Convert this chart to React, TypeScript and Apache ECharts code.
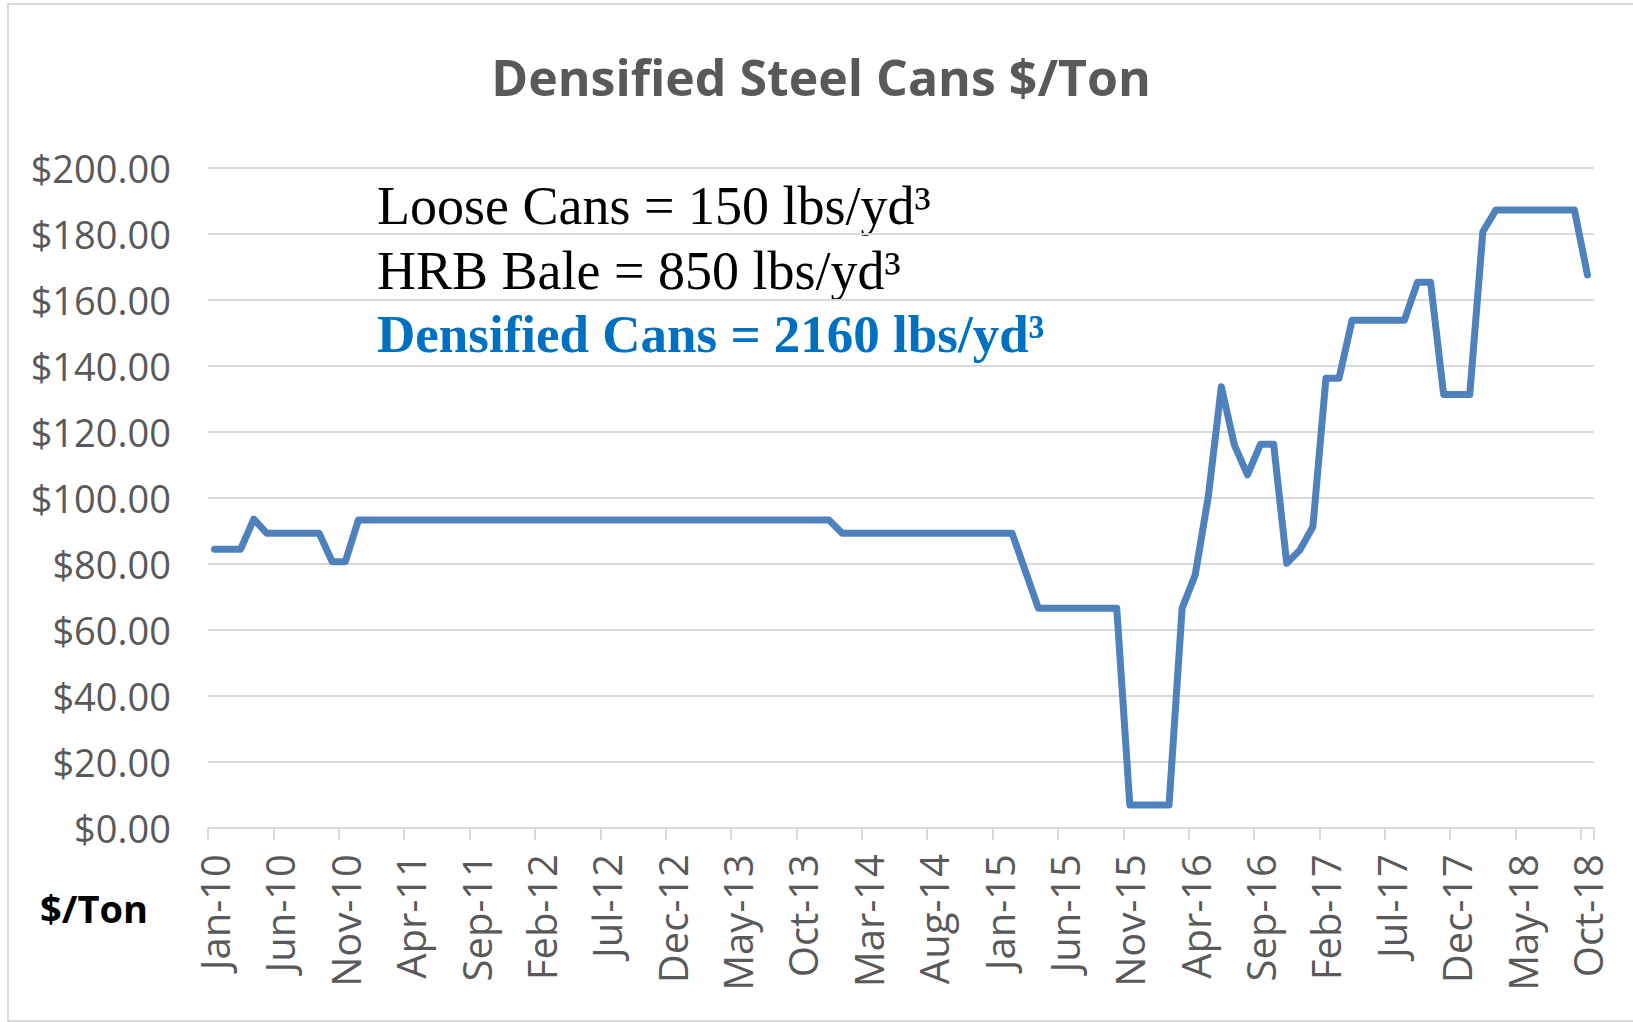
import React, { useEffect, useRef } from "react";
import * as echarts from "echarts";

const MONTH_NAMES = ["Jan", "Feb", "Mar", "Apr", "May", "Jun", "Jul", "Aug", "Sep", "Oct", "Nov", "Dec"];
const YEARS = [10, 11, 12, 13, 14, 15, 16, 17, 18];
const LAST_MONTH_2018 = 9; // Oct

const prices2010 = [84.5, 84.5, 84.5, 93.6, 89.3, 89.3, 89.3, 89.3, 89.3, 80.7, 80.7, 93.3];
const prices2011 = [93.3, 93.3, 93.3, 93.3, 93.3, 93.3, 93.3, 93.3, 93.3, 93.3, 93.3, 93.3];
const prices2012 = [93.3, 93.3, 93.3, 93.3, 93.3, 93.3, 93.3, 93.3, 93.3, 93.3, 93.3, 93.3];
const prices2013 = [93.3, 93.3, 93.3, 93.3, 93.3, 93.3, 93.3, 93.3, 93.3, 93.3, 93.3, 93.3];
const prices2014 = [89.3, 89.3, 89.3, 89.3, 89.3, 89.3, 89.3, 89.3, 89.3, 89.3, 89.3, 89.3];
const prices2015 = [89.3, 89.3, 78, 66.6, 66.6, 66.6, 66.6, 66.6, 66.6, 66.6, 7, 7];
const prices2016 = [7, 7, 66.6, 76.7, 100.4, 133.7, 116, 107, 116.3, 116.3, 80.2, 84.2];
const prices2017 = [91.3, 136.3, 136.3, 153.9, 153.9, 153.9, 153.9, 153.9, 165.4, 165.4, 131.4, 131.4];
const prices2018 = [131.4, 180.7, 187.3, 187.3, 187.3, 187.3, 187.3, 187.3, 187.3, 167.6];

const yTicks = [0, 20, 40, 60, 80, 100, 120, 140, 160, 180, 200];

const TITLE = "Densified Steel Cans $/Ton";
const NOTE_LINES = [
  "Loose Cans = 150 lbs/yd³",
  "HRB Bale = 850 lbs/yd³",
  "Densified Cans = 2160 lbs/yd³",
];
const UNIT_LABEL = "$/Ton";

const categories: string[] = [];
YEARS.forEach((y) => {
  MONTH_NAMES.forEach((m, mi) => {
    if (y === 18 && mi > LAST_MONTH_2018) return;
    categories.push(`${m}-${y}`);
  });
});

const prices = [
  ...prices2010,
  ...prices2011,
  ...prices2012,
  ...prices2013,
  ...prices2014,
  ...prices2015,
  ...prices2016,
  ...prices2017,
  ...prices2018,
];

const SANS = "'Open Sans', sans-serif";
const SERIF = "'Liberation Serif', 'Times New Roman', serif";

export default function App() {
  const ref = useRef<HTMLDivElement>(null);

  useEffect(() => {
    document.body.style.margin = "0";
    if (!ref.current) return;
    const chart = echarts.init(ref.current, undefined, { renderer: "svg" });
    chart.setOption({
      animation: false,
      backgroundColor: "#ffffff",
      grid: { left: 208, top: 168, width: 1386, height: 660, containLabel: false },
      xAxis: {
        type: "category",
        data: categories,
        boundaryGap: true,
        axisLine: { show: true, lineStyle: { color: "#d9d9d9", width: 2 } },
        axisTick: {
          show: true,
          interval: 4,
          length: 12,
          alignWithLabel: false,
          lineStyle: { color: "#d9d9d9", width: 2 },
        },
        axisLabel: {
          interval: 4,
          rotate: 90,
          margin: 26,
          fontSize: 40,
          color: "#595959",
          fontFamily: SANS,
        },
        splitLine: { show: false },
      },
      yAxis: {
        type: "value",
        min: yTicks[0],
        max: yTicks[yTicks.length - 1],
        interval: yTicks[1] - yTicks[0],
        axisLine: { show: false },
        axisTick: { show: false },
        splitLine: { show: true, lineStyle: { color: "#d9d9d9", width: 2 } },
        axisLabel: {
          margin: 37,
          fontSize: 38,
          color: "#595959",
          fontFamily: SANS,
          formatter: (v: number) => "$" + v.toFixed(2),
        },
      },
      series: [
        {
          type: "line",
          data: prices,
          symbol: "none",
          lineStyle: { color: "#4F81BD", width: 7, cap: "round", join: "round" },
          itemStyle: { color: "#4F81BD" },
        },
      ],
      graphic: [
        {
          type: "rect",
          z: -10,
          silent: true,
          shape: { x: 8, y: 4, width: 1640, height: 1017 },
          style: { fill: "none", stroke: "#d9d9d9", lineWidth: 2 },
        },
        {
          type: "text",
          x: 821,
          y: 77,
          style: {
            text: TITLE,
            fontFamily: SANS,
            fontWeight: "bold",
            fontSize: 50,
            fill: "#595959",
            align: "center",
            verticalAlign: "middle",
          },
        },
        {
          type: "text",
          x: 377,
          y: 206,
          style: {
            text: NOTE_LINES[0],
            fontFamily: SERIF,
            fontSize: 54,
            fill: "#000000",
            align: "left",
            verticalAlign: "middle",
          },
        },
        {
          type: "text",
          x: 377,
          y: 271,
          style: {
            text: NOTE_LINES[1],
            fontFamily: SERIF,
            fontSize: 54,
            fill: "#000000",
            align: "left",
            verticalAlign: "middle",
          },
        },
        {
          type: "text",
          x: 377,
          y: 334,
          style: {
            text: NOTE_LINES[2],
            fontFamily: SERIF,
            fontWeight: "bold",
            fontSize: 53,
            fill: "#0070C0",
            align: "left",
            verticalAlign: "middle",
          },
        },
        {
          type: "text",
          x: 40,
          y: 908,
          style: {
            text: UNIT_LABEL,
            fontFamily: SANS,
            fontWeight: "bold",
            fontSize: 38,
            fill: "#000000",
            align: "left",
            verticalAlign: "middle",
          },
        },
      ],
    });
    return () => chart.dispose();
  }, []);

  return (
    <div
      ref={ref}
      style={{ position: "absolute", left: 0, top: 0, width: 1633, height: 1022, background: "#fff" }}
    />
  );
}
